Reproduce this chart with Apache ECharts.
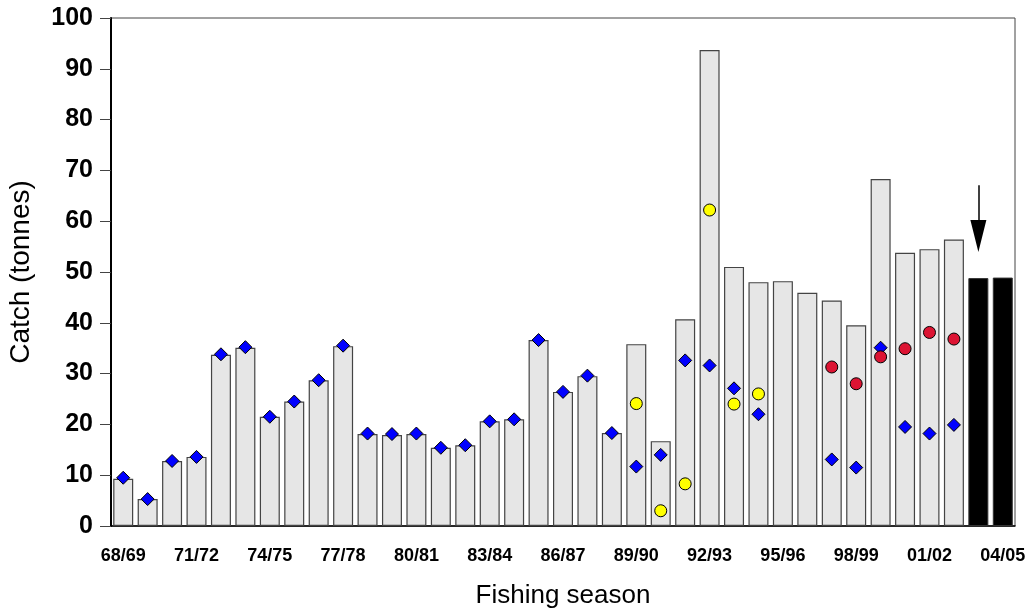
<!DOCTYPE html>
<html><head><meta charset="utf-8">
<script src="https://cdn.jsdelivr.net/npm/echarts@6/dist/echarts.min.js"></script>
<style>html,body{margin:0;padding:0;background:#fff}#c{width:1030px;height:612px}</style>
</head><body><div id="c"></div>
<script>
const seasons = ['68/69','69/70','70/71','71/72','72/73','73/74','74/75','75/76','76/77','77/78','78/79','79/80','80/81','81/82','82/83','83/84','84/85','85/86','86/87','87/88','88/89','89/90','90/91','91/92','92/93','93/94','94/95','95/96','96/97','97/98','98/99','99/00','00/01','01/02','02/03','03/04','04/05'];
const totalCatch = [9.3,5.3,12.8,13.6,33.7,35.1,21.5,24.5,28.7,35.4,18.1,17.9,18.1,15.4,15.9,20.6,21.0,36.6,26.4,29.5,18.3,35.8,16.7,40.7,93.7,51.0,48.0,48.2,45.9,44.4,39.5,68.3,53.8,54.5,56.4,null,null];
const provisionalCatch = [null,null,null,null,null,null,null,null,null,null,null,null,null,null,null,null,null,null,null,null,null,null,null,null,null,null,null,null,null,null,null,null,null,null,null,48.8,48.9];
const diamondSeries = [9.5,5.3,12.8,13.6,33.8,35.2,21.5,24.5,28.7,35.5,18.2,18.1,18.2,15.4,15.9,20.6,21.0,36.6,26.4,29.6,18.3,11.7,14.0,32.6,31.6,27.1,22.0,null,null,13.1,11.5,35.1,19.5,18.2,19.9,null,null];
const yellowSeries = [null,null,null,null,null,null,null,null,null,null,null,null,null,null,null,null,null,null,null,null,null,24.1,3.0,8.3,62.2,24.0,26.0,null,null,null,null,null,null,null,null,null,null];
const redSeries = [null,null,null,null,null,null,null,null,null,null,null,null,null,null,null,null,null,null,null,null,null,null,null,null,null,null,null,null,null,31.3,28.0,33.3,34.9,38.1,36.8,null,null];
const yTicks = [0,10,20,30,40,50,60,70,80,90,100];
const arrowFrom = 67.1, arrowTo = 57.1, arrowSeason = '03/04';

const chart = echarts.init(document.getElementById('c'));
const sc = (data, symbol, color, size) => ({
  type: 'scatter', data, symbol, symbolSize: size, z: 5,
  itemStyle: {color, borderColor: '#000', borderWidth: 1, opacity: 1}
});
chart.setOption({
  animation: false,
  backgroundColor: '#fff',
  grid: {left: 111, top: 18, right: 15, bottom: 86, show: true, borderColor: '#444', borderWidth: 1,
         outerBoundsMode: 'none', containLabel: false},
  xAxis: {
    type: 'category', data: seasons,
    name: 'Fishing season', nameLocation: 'middle', nameGap: 57,
    nameTextStyle: {fontFamily: 'Liberation Sans', fontSize: 26, color: '#000'},
    axisLine: {lineStyle: {color: '#000', width: 1.5}},
    axisTick: {alignWithLabel: true, interval: 0, length: 12, lineStyle: {color: '#444'}},
    axisLabel: {interval: 2, margin: 21, fontFamily: 'Liberation Sans', fontWeight: 'bold', fontSize: 18, color: '#000'}
  },
  yAxis: {
    type: 'value', min: 0, max: 100, interval: 10,
    name: 'Catch (tonnes)', nameLocation: 'middle', nameGap: 76,
    nameTextStyle: {fontFamily: 'Liberation Sans', fontSize: 28, color: '#000'},
    axisLine: {show: true, lineStyle: {color: '#000', width: 2}},
    axisTick: {show: true, length: 11, lineStyle: {color: '#444'}},
    splitLine: {show: false},
    axisLabel: {margin: 18, fontFamily: 'Liberation Sans', fontWeight: 'bold', fontSize: 25, color: '#000',
      formatter: v => yTicks.includes(v) ? String(v) : ''}
  },
  series: [
    {type: 'bar', data: totalCatch, barWidth: 20, barGap: '-100%',
     itemStyle: {color: '#e6e6e6', borderColor: '#444', borderWidth: 1.2}},
    {type: 'bar', data: provisionalCatch, barWidth: 20,
     itemStyle: {color: '#000', borderColor: '#333', borderWidth: 1},
     markLine: {silent: true, symbol: ['none', 'triangle'], symbolSize: [16, 32], symbolOffset: [0, 0],
       lineStyle: {color: '#000', width: 1.5, type: 'solid'}, label: {show: false},
       data: [[{coord: [arrowSeason, arrowFrom]}, {coord: [arrowSeason, arrowTo]}]]}},
    sc(diamondSeries, 'diamond', '#0000ff', 13),
    sc(yellowSeries, 'circle', '#ffff00', 12),
    sc(redSeries, 'circle', '#dc1433', 12)
  ]
});
</script></body></html>
